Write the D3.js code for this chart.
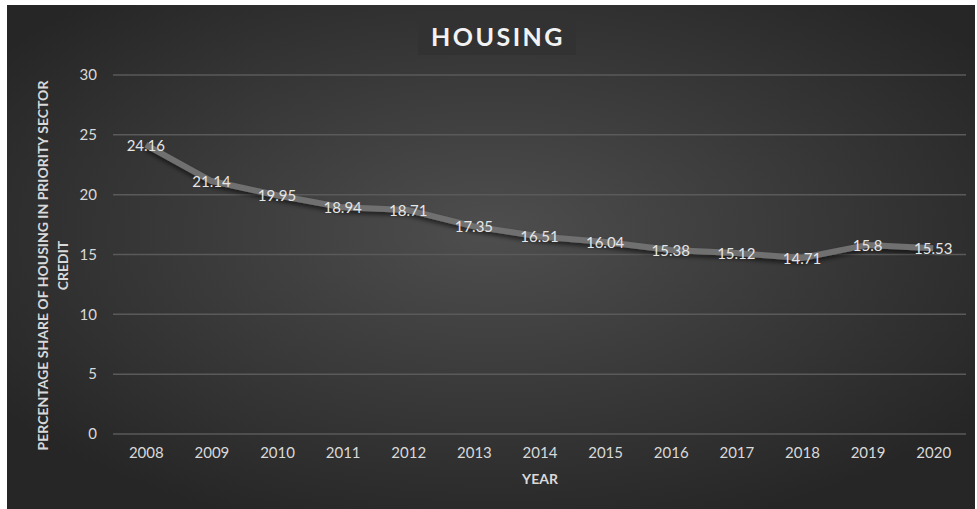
<!DOCTYPE html>
<html>
<head>
<meta charset="utf-8">
<script src="https://cdn.jsdelivr.net/npm/d3@7"></script>
<style>
  html, body { margin: 0; padding: 0; background: #ffffff; }
  svg { display: block; }
  text { font-family: Lato, "Open Sans", "Liberation Sans", sans-serif; }
</style>
</head>
<body>
<svg id="chart" width="977" height="509"></svg>
<script>
// Housing share of priority sector credit, by year
const years = ["2008","2009","2010","2011","2012","2013","2014","2015","2016","2017","2018","2019","2020"];
const shares = [24.16, 21.14, 19.95, 18.94, 18.71, 17.35, 16.51, 16.04, 15.38, 15.12, 14.71, 15.8, 15.53];
const yTicks = [0, 5, 10, 15, 20, 25, 30];

const svg = d3.select("#chart");
const W = 977, H = 509;

const defs = svg.append("defs");
const grad = defs.append("radialGradient")
  .attr("id", "bg").attr("cx", "50%").attr("cy", "45%").attr("r", "62%");
grad.append("stop").attr("offset", "0%").attr("stop-color", "#4e4e4e");
grad.append("stop").attr("offset", "100%").attr("stop-color", "#262626");

const shadow = defs.append("filter").attr("id", "shadow")
  .attr("x", "-10%").attr("y", "-50%").attr("width", "120%").attr("height", "200%");
shadow.append("feDropShadow").attr("dx", 0).attr("dy", 3).attr("stdDeviation", 2)
  .attr("flood-color", "#000").attr("flood-opacity", 0.55);

// chart background
svg.append("rect").attr("x", 7).attr("y", 5).attr("width", W - 9).attr("height", H - 5)
  .attr("fill", "url(#bg)");

const plot = { left: 113, right: 966, top: 75, bottom: 434 };

const x = d3.scalePoint().domain(years)
  .range([plot.left, plot.right]).padding(0.5);
const y = d3.scaleLinear().domain([0, 30]).range([plot.bottom, plot.top]);

// horizontal gridlines
svg.append("g").selectAll("line").data(yTicks).join("line")
  .attr("x1", plot.left).attr("x2", plot.right)
  .attr("y1", d => y(d)).attr("y2", d => y(d))
  .attr("stroke", "#5a5a5a").attr("stroke-width", 1.5);

// y axis tick labels
const yAxis = svg.append("g").attr("transform", `translate(${plot.left - 16},0)`)
  .call(d3.axisLeft(y).tickValues(yTicks).tickSize(0).tickPadding(0));
yAxis.select(".domain").remove();
yAxis.selectAll("text").attr("fill", "#d9d9d9").attr("font-size", 15)
  .style("font-family", "Lato, 'Open Sans', sans-serif");

// x axis tick labels
const xAxis = svg.append("g").attr("transform", `translate(0,${plot.bottom + 11})`)
  .call(d3.axisBottom(x).tickSize(0).tickPadding(2));
xAxis.select(".domain").remove();
xAxis.selectAll("text").attr("fill", "#d9d9d9").attr("font-size", 15)
  .style("font-family", "Lato, 'Open Sans', sans-serif");

// series line
const line = d3.line().x((d, i) => x(years[i])).y(d => y(d));
svg.append("path").datum(shares)
  .attr("d", line)
  .attr("fill", "none")
  .attr("stroke", "#707070")
  .attr("stroke-width", 6)
  .attr("stroke-linejoin", "round")
  .attr("filter", "url(#shadow)");

// data labels
svg.append("g").selectAll("text").data(shares).join("text")
  .attr("x", (d, i) => x(years[i]))
  .attr("y", d => y(d))
  .attr("dy", "0.4em")
  .attr("text-anchor", "middle")
  .attr("fill", "#e6e6e6")
  .attr("font-size", 15)
  .text(d => d);

// title box
const title = svg.append("g");
title.append("rect").attr("x", 418).attr("y", 16).attr("width", 158).attr("height", 39)
  .attr("fill", "#323232");
title.append("text").attr("x", 498).attr("y", 37).attr("dy", "0.36em")
  .attr("text-anchor", "middle").attr("fill", "#f2f2f2")
  .attr("font-size", 25).attr("font-weight", "bold").attr("letter-spacing", 2.5)
  .text("HOUSING");

// axis titles
const yTitle = svg.append("text")
  .attr("transform", `translate(48,${(plot.top + plot.bottom) / 2 + 11}) rotate(-90)`)
  .attr("text-anchor", "middle").attr("fill", "#d9d9d9")
  .attr("font-size", 14).attr("font-weight", "bold");
yTitle.append("tspan").attr("x", 0).attr("dy", 0).text("PERCENTAGE SHARE OF HOUSING IN PRIORITY SECTOR");
yTitle.append("tspan").attr("x", 0).attr("dy", 20).text("CREDIT");

svg.append("text").attr("x", 540).attr("y", 484)
  .attr("text-anchor", "middle").attr("fill", "#d9d9d9")
  .attr("font-size", 14).attr("font-weight", "bold")
  .text("YEAR");
</script>
</body>
</html>
